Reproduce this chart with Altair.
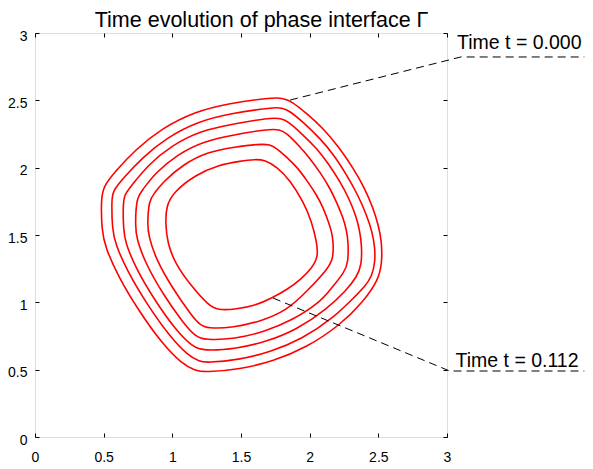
import altair as alt
import pandas as pd

# Interface curves, outermost (t = 0.000) to innermost (t = 0.112), clockwise from the top corner
x1 = [1.808, 1.869, 1.975, 2.099, 2.215, 2.318, 2.400, 2.463, 2.500, 2.525, 2.527, 2.500, 2.391, 2.221, 1.978,
      1.735, 1.493, 1.238, 1.165, 1.068, 0.923, 0.752, 0.607, 0.510, 0.486, 0.481, 0.497, 0.583, 0.728, 0.923,
      1.165, 1.408, 1.735]
y1 = [2.515, 2.492, 2.405, 2.292, 2.150, 1.995, 1.850, 1.698, 1.575, 1.450, 1.290, 1.166, 1.005, 0.830, 0.665,
      0.563, 0.502, 0.480, 0.494, 0.545, 0.696, 0.943, 1.190, 1.413, 1.537, 1.760, 1.859, 1.970, 2.131, 2.292,
      2.416, 2.478, 2.522]

x2 = [1.796, 1.857, 1.960, 2.075, 2.180, 2.270, 2.350, 2.415, 2.455, 2.476, 2.476, 2.455, 2.400, 2.336, 2.175,
      1.943, 1.712, 1.481, 1.246, 1.200, 1.114, 0.981, 0.816, 0.676, 0.585, 0.562, 0.558, 0.566, 0.640, 0.777,
      0.962, 1.188, 1.420, 1.735]
y2 = [2.445, 2.421, 2.330, 2.218, 2.090, 1.945, 1.800, 1.648, 1.525, 1.401, 1.300, 1.195, 1.115, 1.050, 0.885,
      0.727, 0.630, 0.572, 0.552, 0.560, 0.605, 0.747, 0.985, 1.224, 1.432, 1.545, 1.756, 1.826, 1.918, 2.071,
      2.225, 2.343, 2.402, 2.448]

x3 = [1.796, 1.844, 1.945, 2.051, 2.140, 2.221, 2.290, 2.343, 2.365, 2.379, 2.379, 2.343, 2.270, 2.125, 1.906,
      1.687, 1.469, 1.225, 1.150, 1.026, 0.868, 0.734, 0.655, 0.644, 0.641, 0.648, 0.701, 0.822, 0.996, 1.208,
      1.434, 1.700]
y3 = [2.367, 2.341, 2.250, 2.144, 2.025, 1.896, 1.765, 1.624, 1.525, 1.426, 1.277, 1.190, 1.092, 0.950, 0.797,
      0.708, 0.655, 0.640, 0.668, 0.792, 1.021, 1.252, 1.450, 1.553, 1.700, 1.800, 1.863, 2.020, 2.166, 2.275,
      2.322, 2.370]

x4 = [1.784, 1.833, 1.920, 2.002, 2.080, 2.148, 2.200, 2.245, 2.268, 2.281, 2.281, 2.257, 2.148, 2.080, 1.872,
      1.664, 1.458, 1.235, 1.168, 1.082, 0.930, 0.805, 0.740, 0.730, 0.738, 0.780, 0.873, 1.036, 1.232, 1.447,
      1.690]
y4 = [2.285, 2.255, 2.165, 2.069, 1.960, 1.847, 1.735, 1.624, 1.537, 1.450, 1.302, 1.227, 1.092, 1.005, 0.865,
      0.780, 0.728, 0.720, 0.748, 0.843, 1.063, 1.288, 1.470, 1.562, 1.775, 1.830, 1.958, 2.098, 2.198, 2.244,
      2.285]

x5 = [1.711, 1.760, 1.830, 1.906, 1.980, 2.051, 2.100, 2.136, 2.160, 2.172, 2.172, 2.136, 1.990, 1.835, 1.640,
      1.445, 1.255, 1.200, 1.142, 0.998, 0.878, 0.828, 0.818, 0.830, 0.870, 0.928, 1.078, 1.258, 1.458, 1.630]
y5 = [2.173, 2.144, 2.080, 2.007, 1.905, 1.797, 1.700, 1.599, 1.525, 1.450, 1.327, 1.253, 1.092, 0.940, 0.858,
      0.812, 0.805, 0.835, 0.899, 1.109, 1.325, 1.493, 1.575, 1.760, 1.810, 1.890, 2.025, 2.118, 2.155, 2.175]

x6 = [1.675, 1.760, 1.857, 1.954, 2.015, 2.051, 2.063, 2.015, 1.935, 1.833, 1.724, 1.600, 1.470, 1.330, 1.262,
      1.141, 1.019, 0.965, 0.950, 0.955, 1.010, 1.165, 1.335, 1.500, 1.600]
y6 = [2.057, 2.007, 1.908, 1.747, 1.599, 1.450, 1.339, 1.253, 1.170, 1.092, 1.032, 0.975, 0.950, 0.940, 0.980,
      1.116, 1.290, 1.440, 1.580, 1.715, 1.820, 1.945, 2.020, 2.050, 2.062]

# Annotation leader lines (point on curve -> elbow -> end of underline)
lead0_x = [1.857, 3.100, 4.000]
lead0_y = [2.502, 2.822, 2.822]
lead1_x = [1.733, 3.020, 4.000]
lead1_y = [1.032, 0.490, 0.490]

label_text = ["Time t = 0.000", "Time t = 0.112"]
label_x = [3.073, 3.062]
label_y = [2.879, 0.518]

title_text = ["Time evolution of phase interface \u0393"]
title_x = [1.650]
title_y = [3.041]

ticks = [0, 0.5, 1, 1.5, 2, 2.5, 3]

FONT = "Liberation Sans"

rows = []
for ci, (xs, ys) in enumerate(zip([x1, x2, x3, x4, x5, x6], [y1, y2, y3, y4, y5, y6])):
    for i, (a, b) in enumerate(zip(xs, ys)):
        rows.append({"curve": ci, "order": i, "x": a, "y": b})
df = pd.DataFrame(rows)

lrows = []
for si, (xs, ys) in enumerate(zip([lead0_x, lead1_x], [lead0_y, lead1_y])):
    for i, (a, b) in enumerate(zip(xs, ys)):
        lrows.append({"seg": si, "order": i, "x": a, "y": b})
ldf = pd.DataFrame(lrows)

tdf = pd.DataFrame({"x": label_x, "y": label_y, "label": label_text})
ttl = pd.DataFrame({"x": title_x, "y": title_y, "label": title_text})

xscale = alt.Scale(domain=[0, 3], nice=False)
yscale = alt.Scale(domain=[0, 3], nice=False)

common = dict(values=ticks, offset=-4, tickSize=4, domain=False, grid=False,
              tickColor="black", tickWidth=1, title=None)

curves = alt.Chart(df).mark_line(color="#ff0000", strokeWidth=1.6, interpolate="basis-closed").encode(
    x=alt.X("x:Q", scale=xscale,
            axis=alt.Axis(orient="bottom", format="~g", labelPadding=13, labelFlush=False,
                          labelOverlap=False, labelFont=FONT, labelFontSize=14, labelColor="black", **common)),
    y=alt.Y("y:Q", scale=yscale,
            axis=alt.Axis(orient="left", format="~g", labelPadding=8, labelOffset=3, labelFlush=False,
                          labelOverlap=False, labelFont=FONT, labelFontSize=14, labelColor="black", **common)),
    detail="curve:N",
    order="order:Q",
)

leaders = alt.Chart(ldf).mark_line(color="black", strokeWidth=1, strokeDash=[8, 5]).encode(
    x=alt.X("x:Q", scale=xscale, axis=alt.Axis(orient="top", labels=False, **common)),
    y=alt.Y("y:Q", scale=yscale, axis=alt.Axis(orient="right", labels=False, **common)),
    detail="seg:N",
    order="order:Q",
)

texts = alt.Chart(tdf).mark_text(align="left", baseline="alphabetic", font=FONT, fontSize=19.5,
                                 color="black").encode(
    x=alt.X("x:Q", scale=xscale, axis=None),
    y=alt.Y("y:Q", scale=yscale, axis=None),
    text="label:N",
)

title = alt.Chart(ttl).mark_text(align="center", baseline="alphabetic", font=FONT, fontSize=21.5,
                                 color="black").encode(
    x=alt.X("x:Q", scale=xscale, axis=None),
    y=alt.Y("y:Q", scale=yscale, axis=None),
    text="label:N",
)

chart = alt.layer(curves, leaders, texts, title).resolve_axis(
    x="independent", y="independent"
).properties(
    width=412,
    height=404,
    autosize=alt.AutoSizeParams(type="none"),
    padding={"left": 27, "top": 25, "right": 138, "bottom": 30},
).configure_view(stroke="black", strokeWidth=1).configure(background="white")

chart.save("out.html", embed_options={"renderer": "svg", "actions": False})
